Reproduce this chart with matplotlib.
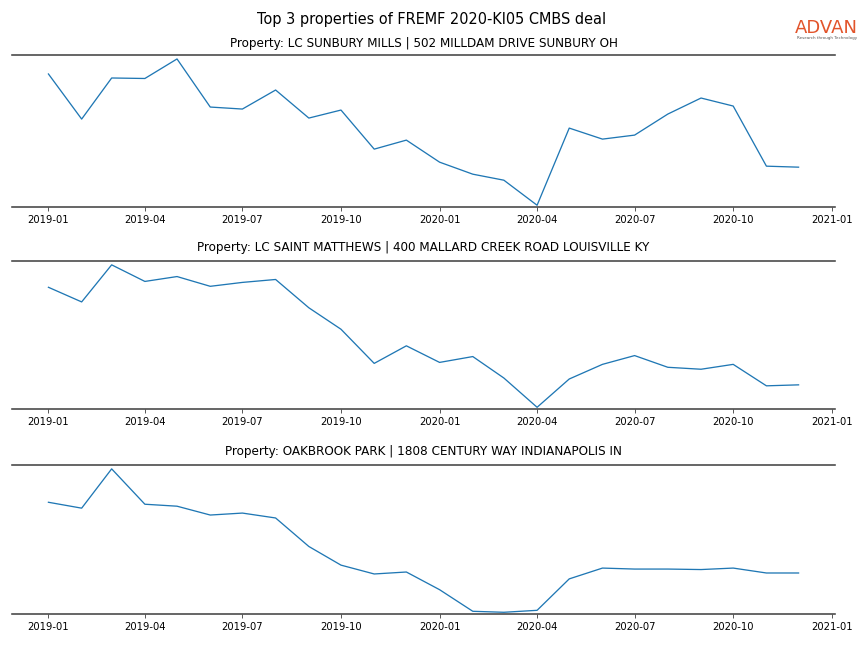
import matplotlib
matplotlib.use("Agg")
import matplotlib.pyplot as plt
import matplotlib.dates as mdates
import pandas as pd
import numpy as np

months = pd.date_range("2019-01-01", "2020-12-01", freq="MS")

titles = [
    "Property: LC SUNBURY MILLS | 502 MILLDAM DRIVE SUNBURY OH",
    "Property: LC SAINT MATTHEWS | 400 MALLARD CREEK ROAD LOUISVILLE KY",
    "Property: OAKBROOK PARK | 1808 CENTURY WAY INDIANAPOLIS IN",
]

sunbury = [133, 88, 129, 128.5, 148, 100, 98, 117, 89, 97, 58, 67,
           45, 33, 27, 2, 79, 68, 72, 93, 109, 101, 41, 40]
saint_matthews = [123, 108, 146, 129, 134, 124, 128, 131, 102, 80, 45, 63,
                  46, 52, 30, 0, 29, 44, 53, 41, 39, 44, 22, 23]
oakbrook = [113, 107, 147, 111, 109, 100, 102, 97, 68, 49, 40, 42,
            24, 2, 1, 3, 35, 46, 45, 45, 44.5, 46, 41, 41]

series = [sunbury, saint_matthews, oakbrook]

W, H = 864, 648
fig = plt.figure(figsize=(12, 9), dpi=72)
panel_px = [(55, 207), (261, 409), (465, 614)]
title_pads = [8, 10, 10]
axes = []
for top_px, bot_px in panel_px:
    axes.append(fig.add_axes([12 / W, 1 - bot_px / H, (835 - 12) / W, (bot_px - top_px) / H]))

fig.suptitle("Top 3 properties of FREMF 2020-KI05 CMBS deal", fontsize=14.5, y=0.982)

for ax, title, vals, tp in zip(axes, titles, series, title_pads):
    ax.plot(months, vals, color="#1f77b4", linewidth=1.3)
    ax.set_title(title, fontsize=12, pad=tp)
    lo, hi = min(vals), max(vals)
    rng = hi - lo
    ax.set_ylim(lo - 0.012 * rng, hi + 0.027 * rng)
    ax.set_xlim(pd.Timestamp("2018-11-28"), pd.Timestamp("2021-01-04"))
    ax.xaxis.set_major_locator(mdates.MonthLocator(bymonth=[1, 4, 7, 10]))
    ax.xaxis.set_major_formatter(mdates.DateFormatter("%Y-%m"))
    ax.set_yticks([])
    for s in ["left", "right"]:
        ax.spines[s].set_visible(False)
    for s in ["top", "bottom"]:
        ax.spines[s].set_color("#444444")
        ax.spines[s].set_linewidth(1.6)
    ax.tick_params(axis="x", labelsize=10, length=4, width=0.8, color="#333333", pad=4)

fig.text(0.993, 0.957, "ADVAN", color="#E2542B", fontsize=18,
         ha="right", va="center", family="DejaVu Sans")
fig.text(0.992, 0.941, "Research through Technology", color="#555555", fontsize=4,
         ha="right", va="center")

fig.savefig("out.png", dpi=72)
